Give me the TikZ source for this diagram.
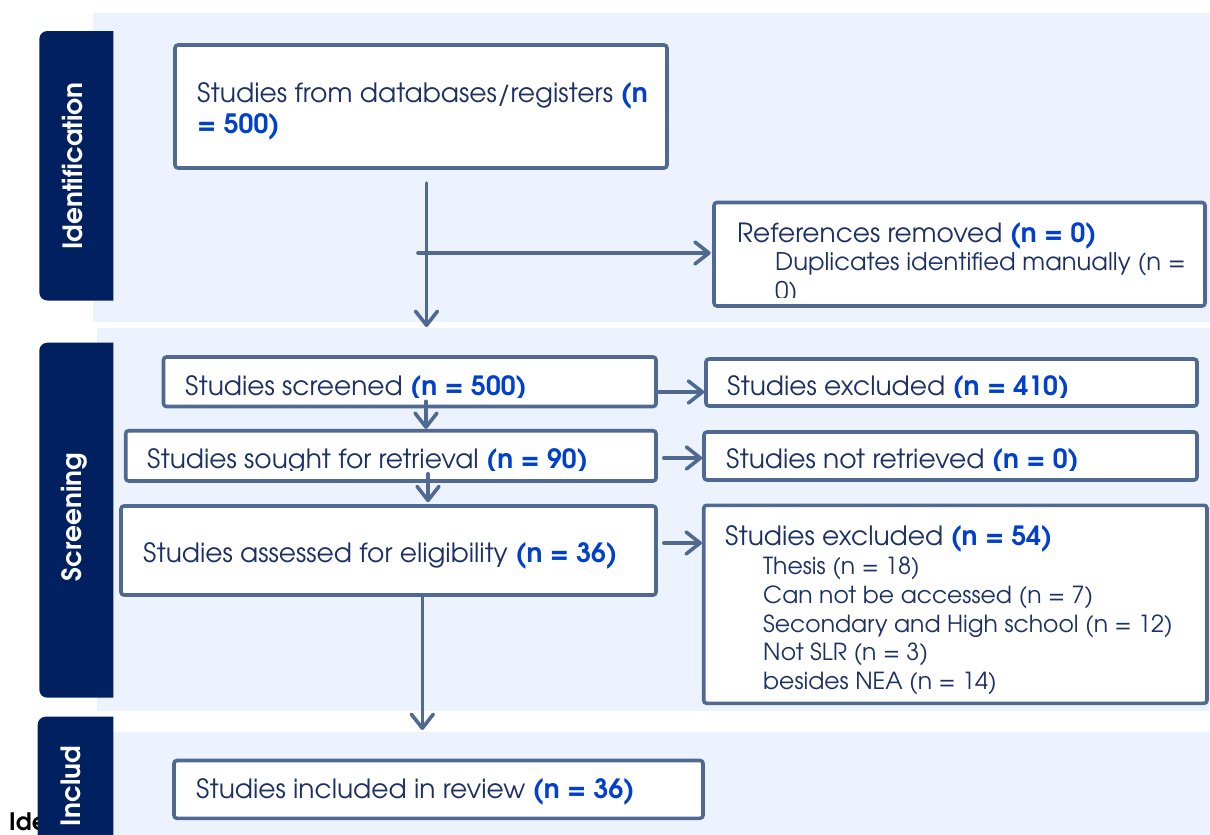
\documentclass[tikz,border=0pt]{standalone}
\usepackage{fontspec}
\setmainfont{TeX Gyre Adventor}
\usetikzlibrary{arrows.meta}
\definecolor{bandc}{RGB}{236,243,254}
\definecolor{navy}{RGB}{0,32,96}
\definecolor{edgec}{RGB}{80,105,145}
\definecolor{txtc}{RGB}{28,48,100}
\definecolor{nblue}{RGB}{0,64,204}
\newcommand{\nb}[1]{\textcolor{nblue}{\bfseries #1}}
\newcommand{\fsz}[1]{\fontsize{#1}{#1}\selectfont}
\begin{document}
\begin{tikzpicture}[x=1pt,y=-1pt,
  box/.style={draw=edgec, line width=3.6pt, fill=white, rounded corners=3pt, inner sep=0pt, rectangle},
  lbl/.style={anchor=base west, inner sep=0pt, text=txtc, font=\fsz{26.5}},
  sublbl/.style={anchor=base west, inner sep=0pt, text=txtc, font=\fsz{23.5}},
  tabtxt/.style={text=white, font=\fsz{26.5}\bfseries, rotate=90, inner sep=0pt, anchor=base},
  arr/.style={draw=edgec, line width=3.6pt, line cap=round, -{Straight Barb[length=14pt,width=22pt,round]}},
]
\useasboundingbox (0,0) rectangle (1210,835);
\fill[white] (0,0) rectangle (1210,835);
% bands
\fill[bandc] (93,13) rectangle (1210,322);
\fill[bandc] (97,328) rectangle (1210,711);
\node[anchor=base west, inner sep=0pt, font=\fsz{24}\bfseries, text=black] (ide) at (9,830) {Ide};
\fill[bandc] (113,732) rectangle (1210,835);
% tabs
\begin{scope}
  \clip (0,0) rectangle (113.3,835);
  \fill[navy, rounded corners=8pt] (39.3,31) rectangle (140,300.5);
  \fill[navy, rounded corners=8pt] (39.3,342.7) rectangle (140,697.7);
  \fill[navy, rounded corners=8pt] (37.7,716.7) rectangle (140,870);
\end{scope}
\node[tabtxt] (tid) at (82,166) {Identification};
\node[tabtxt] (tsc) at (81.5,517) {Screening};
\node[tabtxt] (tin) at (80,786) {Includ};
% boxes
\node[box, minimum width=492pt, minimum height=123pt] (A) at (421,106.5) {};
\node[box, minimum width=491pt, minimum height=103.5pt] (B) at (959.5,254.25) {};
\node[box, minimum width=492.5pt, minimum height=49.5pt] (C) at (409.75,381.75) {};
\node[box, minimum width=530.3pt, minimum height=50.3pt] (D) at (390.85,455.85) {};
\node[box, minimum width=535pt, minimum height=89pt] (E) at (388.5,550.5) {};
\node[box, minimum width=491pt, minimum height=47pt] (F) at (951.5,382.5) {};
\node[box, minimum width=493pt, minimum height=48pt] (G) at (950.5,456) {};
\node[box, minimum width=503.3pt, minimum height=198pt] (H) at (955.35,604.3) {};
\node[box, minimum width=529pt, minimum height=57.8pt] (I) at (438.5,789.4) {};
% texts
\node[lbl, font=\fsz{26.6}] (tA1) at (197,102) {Studies from databases/registers \nb{(n}};
\node[lbl, font=\fsz{26.6}] (tA2) at (197,133) {\nb{= 500)}};
\node[lbl, font=\fsz{26.4}] (tB1) at (737,242) {References removed \nb{(n = 0)}};
\node[lbl, font=\fsz{24.3}] (tB2) at (775,270) {Duplicates identified manually (n =};
\begin{scope}
  \clip (716,205) rectangle (1203,297);
  \node[lbl, font=\fsz{24.3}] (tB3) at (775,299) {0)};
\end{scope}
\begin{scope}
  \clip (166,360) rectangle (654,397.5);
  \node[lbl] (tC) at (185,395) {Studies screened \nb{(n = 500)}};
\end{scope}
\begin{scope}
  \clip (128,433) rectangle (654,470.5);
  \node[lbl] (tD) at (147,468) {Studies sought for retrieval \nb{(n = 90)}};
\end{scope}
\node[lbl] (tE) at (143,562) {Studies assessed for eligibility \nb{(n = 36)}};
\begin{scope}
  \clip (708,360) rectangle (1195,397.5);
  \node[lbl] (tF) at (727,395) {Studies excluded \nb{(n = 410)}};
\end{scope}
\begin{scope}
  \clip (707,434) rectangle (1194,470.5);
  \node[lbl] (tG) at (726,468) {Studies not retrieved \nb{(n = 0)}};
\end{scope}
\node[lbl] (tH) at (725,545) {Studies excluded \nb{(n = 54)}};
\node[sublbl] (h1) at (763,574) {Thesis (n = 18)};
\node[sublbl] (h2) at (763,603) {Can not be accessed (n = 7)};
\node[sublbl] (h3) at (763,632) {Secondary and High school (n = 12)};
\node[sublbl] (h4) at (763,660) {Not SLR (n = 3)};
\node[sublbl] (h5) at (763,689) {besides NEA (n = 14)};
\node[lbl] (tI) at (196,798) {Studies included in review \nb{(n = 36)}};
% connectors
\coordinate (v1) at (426.5,183);
\coordinate (v2) at (426.5,327);
\coordinate (h0) at (418,253);
\coordinate (cd) at (426,0);
\coordinate (de) at (428,0);
\coordinate (ei) at (422.3,0);
\coordinate (eiend) at (422.3,730);
\coordinate (cf) at (0,392);
\coordinate (dg) at (0,458);
\coordinate (eh) at (0,543);
\draw[arr] (v1) -- (v2);
\draw[arr, shorten >=1.5pt] (h0) -- (h0 -| B.west);
\draw[arr] ([yshift=7pt]C.south -| cd) -- (D.north -| cd);
\draw[arr, shorten >=2pt] ([yshift=9pt]D.south -| de) -- (E.north -| de);
\draw[arr] (E.south -| ei) -- (eiend);
\draw[arr] (C.east |- cf) -- (F.west |- cf);
\draw[arr] ([xshift=6pt]D.east |- dg) -- (G.west |- dg);
\draw[arr] ([xshift=6pt]E.east |- eh) -- (H.west |- eh);
\end{tikzpicture}
\end{document}
